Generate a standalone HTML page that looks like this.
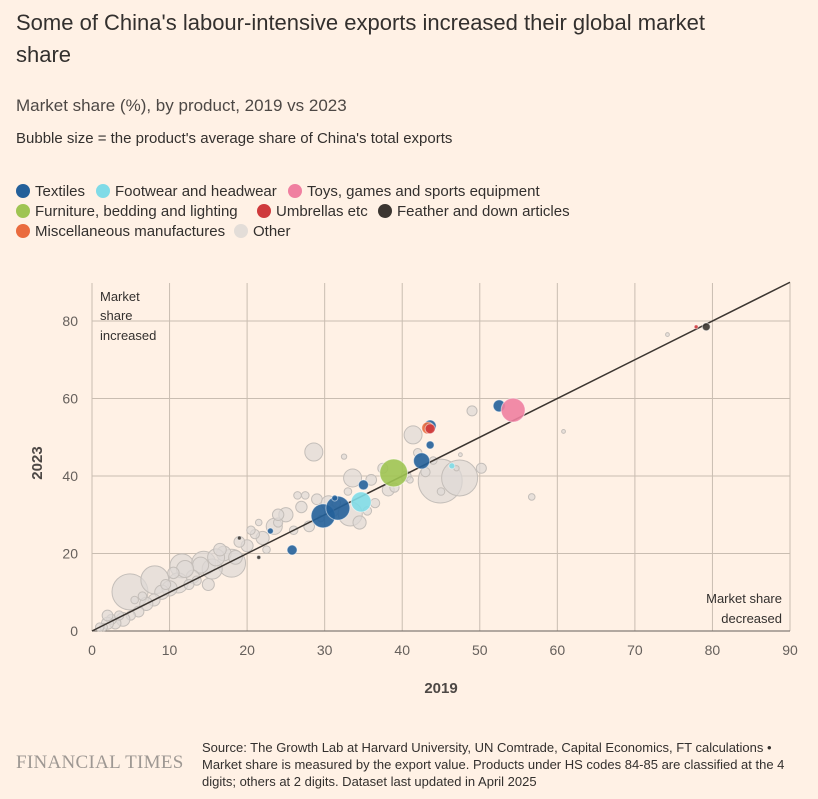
<!DOCTYPE html>
<html><head><meta charset="utf-8">
<style>
body{margin:0;background:#fff1e5;font-family:"Liberation Sans",sans-serif;color:#33302e;}
#page{position:relative;width:818px;height:799px;overflow:hidden;background:#fff1e5;}
.t{position:absolute;white-space:nowrap;}
.leg{position:absolute;font-size:15px;color:#33302e;white-space:nowrap;}
.dot{display:inline-block;width:14px;height:14px;border-radius:50%;vertical-align:-2px;margin-right:5px;}
</style></head><body>
<div id="page">
<div class="t" style="left:16px;top:7px;font-size:22px;line-height:32px;white-space:normal;width:740px;">Some of China's labour-intensive exports increased their global market share</div>
<div class="t" style="left:16px;top:96px;font-size:17px;color:#4d4845;">Market share (%), by product, 2019 vs 2023</div>
<div class="t" style="left:16px;top:130px;font-size:15px;color:#33302e;">Bubble size = the product's average share of China's total exports</div>
<div>
<div class="leg" style="left:16px;top:183px;"><span class="dot" style="background:#24609a"></span>Textiles</div>
<div class="leg" style="left:96px;top:183px;"><span class="dot" style="background:#80dbe7"></span>Footwear and headwear</div>
<div class="leg" style="left:288px;top:183px;"><span class="dot" style="background:#f07fa0"></span>Toys, games and sports equipment</div>
<div class="leg" style="left:16px;top:203px;"><span class="dot" style="background:#9fc452"></span>Furniture, bedding and lighting</div>
<div class="leg" style="left:257px;top:203px;"><span class="dot" style="background:#cf3a3c"></span>Umbrellas etc</div>
<div class="leg" style="left:378px;top:203px;"><span class="dot" style="background:#3b3530"></span>Feather and down articles</div>
<div class="leg" style="left:16px;top:223px;"><span class="dot" style="background:#ea6b3e"></span>Miscellaneous manufactures</div>
<div class="leg" style="left:234px;top:223px;"><span class="dot" style="background:#e3ddd8"></span>Other</div>
</div>
<svg id="chart" width="818" height="799" style="position:absolute;left:0;top:0;"></svg>
<div class="t" style="left:16px;top:752px;font-family:'Liberation Serif',serif;font-size:19px;color:#9e9893;letter-spacing:0.3px;">FINANCIAL TIMES</div>
<div class="t" style="left:202px;top:739px;font-size:13px;line-height:17px;color:#33302e;white-space:normal;width:598px;">Source: The Growth Lab at Harvard University, UN Comtrade, Capital Economics, FT calculations • Market share is measured by the export value. Products under HS codes 84-85 are classified at the 4 digits; others at 2 digits. Dataset last updated in April 2025</div>
</div>
<script>
const xTicks=[0,10,20,30,40,50,60,70,80,90];
const yTicks=[0,20,40,60,80];
const catColors=["#dedad6","#24609a","#80dbe7","#f07fa0","#9fc452","#cf3a3c","#3b3530","#ea6b3e"];
// other bubbles
const otherX=[44.9,47.4,28.6,41.4,4.9,8.1,11.6,18,14.4,15.5,11.1,33.3,33.6,32.5,29,38.2,49,50.2,56.7,47.5,60.8,74.2,44,40.5,42,36,34.5,30.5,27,25,23.5,22,21,20,19,17,16,14,13,12,10,9,8,7,6,5,4,3,2.5,2,1.5,1,26,28,31,24,22.5,20.5,33,36.5,37.5,39,41,45,47,24,26.5,29.5,31.5,18.5,16.5,13.5,10.5,9.5,6.5,3.5,21.5,27.5,35.5,43,2,5.5,15,12.5];
const otherY=[38.7,39.5,46.2,50.6,10.1,13.2,16.8,17.5,17.5,16,12.4,30.2,39.5,45,34,36.4,56.8,42,34.6,45.5,51.5,76.5,44,40,46,39,28,33,32,30,27,24,25,22,23,20,19,17,14,16,11,10,8,7,5,4,3,2,3,2,1,1,26,27,31,28,21,26,36,33,42,37,39,36,42,30,35,29,33,19,21,13,15,12,9,4,28,35,31,41,4,8,12,12];
const otherS=[13.4,9,2.25,2.25,9,5.4,4,5.4,4,2.8,2.8,4,2.25,0.2,0.8,1,0.7,0.7,0.3,0.1,0.1,0.1,0.4,0.7,0.5,0.8,1.2,1.5,0.9,1.4,1.8,1.2,0.6,1,0.8,1.5,2,1.8,1.2,2,1.6,1.4,1,1.2,0.8,0.6,1.3,0.9,0.7,1,0.4,0.5,0.5,0.8,1,0.6,0.4,0.5,0.4,0.6,0.7,0.6,0.3,0.4,0.2,0.9,0.4,0.3,0.5,1.3,1.1,0.6,0.9,0.7,0.5,0.6,0.3,0.4,0.5,0.6,0.8,0.4,1,0.7];
// coloured bubbles
const colX=[29.8,31.7,25.8,35,42.5,43.6,43.6,52.5,23,31.3,54.3,38.9,34.7,46.4,43.3,43.6,79.2,77.9,21.5,19];
const colY=[29.7,31.7,20.9,37.7,43.9,52.9,48,58.1,25.8,34.3,57,40.8,33.3,42.6,52.4,52.2,78.5,78.5,19,24];
const colS=[4,4,0.7,0.7,1.8,1,0.44,1,0.25,0.25,4,5.4,2.8,0.25,1,0.7,0.44,0.11,0.11,0.11];
const colCat=[1,1,1,1,1,1,1,1,1,1,3,4,2,2,7,5,6,5,6,6];

const svg=document.getElementById('chart');
const NS='http://www.w3.org/2000/svg';
const X0=92,X1=790,Y0=631,Y80=321;
const xs=v=>X0+(X1-X0)*v/90;
const ys=v=>Y0-(Y0-Y80)*v/80;
const rs=s=>6*Math.sqrt(s);
function mk(t,a){const e=document.createElementNS(NS,t);for(const k in a)e.setAttribute(k,a[k]);svg.appendChild(e);return e;}
xTicks.forEach(v=>{
  const l=mk('line',{x1:xs(v),x2:xs(v),y1:283,y2:Y0,stroke:'#c9bdb1','stroke-width':1});
  
  
  const t=mk('text',{x:xs(v),y:655,'text-anchor':'middle','font-size':14,fill:'#66605c'});
  t.textContent=v;
  
  
});
yTicks.forEach(v=>{
  const l=mk('line',{x1:X0,x2:X1,y1:ys(v),y2:ys(v),stroke:v===0?'#66605c':'#c9bdb1','stroke-width':1});
  
  
  const t=mk('text',{x:78,y:ys(v)+5,'text-anchor':'end','font-size':14,fill:'#66605c'});
  t.textContent=v;
  
  
});
otherX.forEach((v,i)=>{
  const c=mk('circle',{cx:xs(v),cy:ys(otherY[i]),r:rs(otherS[i]),fill:'#ded9d5','fill-opacity':0.7,stroke:'#c4beb9','stroke-width':1});
  
  
});
const dl=mk('line',{x1:xs(0),y1:ys(0),x2:xs(90),y2:ys(90),stroke:'#3b3530','stroke-width':1.5});


colX.forEach((v,i)=>{
  const c=mk('circle',{cx:xs(v),cy:ys(colY[i]),r:rs(colS[i]),fill:catColors[colCat[i]],'fill-opacity':0.9,stroke:'#ffffff','stroke-opacity':0.5,'stroke-width':1});
  
  
});
function txt(x,y,s,name,attrs){const t=mk('text',Object.assign({x:x,y:y,'font-size':13,fill:'#33302e'},attrs||{}));t.textContent=s;return t;}
txt(100,301,'Market','annotation-increased');
txt(100,320,'share','annotation-increased');
txt(100,340,'increased','annotation-increased');
txt(782,603,'Market share','annotation-decreased',{'text-anchor':'end'});
txt(782,623,'decreased','annotation-decreased',{'text-anchor':'end'});
txt(441,693,'2019','x-axis-title',{'text-anchor':'middle','font-size':15,'font-weight':'bold',fill:'#4d4845'});
txt(0,0,'2023','y-axis-title',{'text-anchor':'middle','font-size':15,'font-weight':'bold',fill:'#4d4845',transform:'translate(42,463) rotate(-90)'});
</script>
</body></html>
